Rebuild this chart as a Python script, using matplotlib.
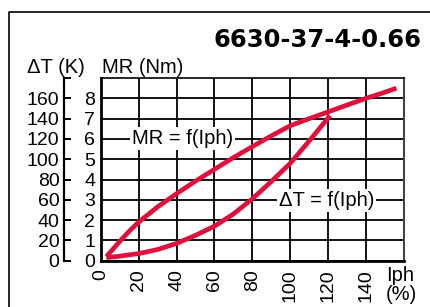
import matplotlib
matplotlib.use("Agg")
import matplotlib.pyplot as plt
from matplotlib.lines import Line2D

# values
iph_mr = [3, 10, 15, 20, 30, 40, 50, 60, 70, 80, 90, 100, 110, 120, 130, 140, 150, 156]
mr = [0.2, 0.95, 1.45, 1.9, 2.65, 3.3, 3.92, 4.5, 5.08, 5.62, 6.15, 6.65, 7.0, 7.33, 7.67, 8.0, 8.3, 8.5]

iph_dt = [3, 10, 20, 30, 40, 50, 60, 70, 80, 90, 100, 110, 121]
dt = [3, 4.5, 7, 11, 17, 25, 34, 46, 61, 78, 96, 118, 143]

x_ticks = [0, 20, 40, 60, 80, 100, 120, 140]
mr_ticks = [0, 1, 2, 3, 4, 5, 6, 7, 8]
dt_ticks = [0, 20, 40, 60, 80, 100, 120, 140, 160, 180]
dt_labels = ["0", "20", "40", "60", "80", "100", "120", "140", "160", ""]

title = "6630-37-4-0.66"
red = "#E0103C"

plt.rcParams["font.family"] = ["Liberation Sans", "DejaVu Sans"]
W, H = 430, 307
fig = plt.figure(figsize=(W / 100, H / 100), dpi=100)

def fx(px):
    return px / W

def fy(py):
    return 1 - py / H

# outer frame (left and top only)
fig.add_artist(Line2D([fx(9), fx(9), fx(430)], [fy(307), fy(12), fy(12)],
                      color="black", lw=1.2, transform=fig.transFigure))

left, right, top, bottom = 100.7, 404, 78, 260.7
ax = fig.add_axes([fx(left), fy(bottom), (right - left) / W, (bottom - top) / H])
ax.set_xlim(0, 160)
ax.set_ylim(0, 9)
ax.set_xticks(x_ticks)
ax.set_yticks(mr_ticks)
ax.grid(True, color="black", lw=1.3)
ax.set_axisbelow(True)
ax.tick_params(axis="both", length=0, labelsize=14)
ax.tick_params(axis="y", pad=4)
ax.tick_params(axis="x", pad=6, labelrotation=90)
ax.spines["left"].set_linewidth(2.0)
ax.spines["bottom"].set_linewidth(2.0)
ax.spines["right"].set_linewidth(1.5)
ax.spines["right"].set_color("#444444")
ax.spines["top"].set_linewidth(1.2)

ax.plot(iph_mr, mr, color=red, lw=3.4, solid_capstyle="butt", solid_joinstyle="round")
ax.plot(iph_dt, [v / 20 for v in dt], color=red, lw=3.4, solid_capstyle="butt",
        solid_joinstyle="round")

box = dict(facecolor="white", edgecolor="none", pad=1.5)
ax.text(43.3, 6, "MR = f(Iph)", fontsize=14.5, ha="center", va="center", bbox=box)
ax.text(119.2, 2.95, "ΔT = f(Iph)", fontsize=14.5, ha="center", va="center", bbox=box)

# second scale for the temperature rise
sec = ax.secondary_yaxis(-37 / (right - left), functions=(lambda y: y * 20, lambda y: y / 20))
sec.set_yticks(dt_ticks)
sec.set_yticklabels(dt_labels)
sec.tick_params(direction="in", length=5, width=1.4, labelsize=14, pad=3)
sec.spines["left"].set_linewidth(1.6)

fig.text(fx(421.7), fy(47.3), title, fontsize=17.5, fontweight="bold",
         family="DejaVu Sans", ha="right", va="baseline")
fig.text(fx(26.7), fy(73), "ΔT (K)", fontsize=14.5, ha="left", va="baseline")
fig.text(fx(101.7), fy(73), "MR (Nm)", fontsize=14.5, ha="left", va="baseline")
fig.text(fx(386), fy(281), "Iph", fontsize=14.5, ha="left", va="baseline")
fig.text(fx(386), fy(300), "(%)", fontsize=14.5, ha="left", va="baseline")

fig.savefig("out.png", dpi=100)
